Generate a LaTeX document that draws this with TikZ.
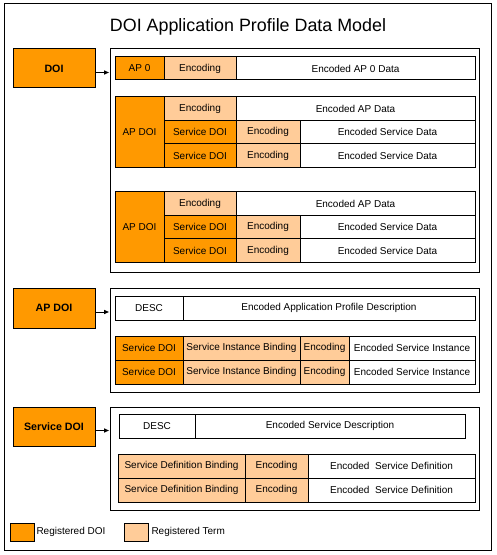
\documentclass[tikz,border=0pt]{standalone}
\usepackage{fontspec}
\setmainfont{Liberation Sans}
\usetikzlibrary{arrows.meta}
\definecolor{regdoi}{RGB}{255,153,0}
\definecolor{regterm}{RGB}{255,204,153}
\tikzset{every picture/.style={line width=0.75pt},
  cell/.style={draw,inner sep=0pt,font=\fontsize{7.5}{9}\selectfont},
  doicell/.style={cell,fill=regdoi},
  termcell/.style={cell,fill=regterm},
  datacell/.style={cell,fill=white},
  keybox/.style={cell,fill=regdoi,font=\fontsize{8}{9}\selectfont\bfseries},
  holder/.style={draw,inner sep=0pt},
  legtext/.style={anchor=west,inner sep=0pt,font=\fontsize{7.5}{9}\selectfont},
  arr/.style={-{Latex[length=4pt,width=3.5pt]}}}
% style, name, x1, y1, x2, y2, text
\newcommand{\cellbox}[7]{\node[#1,minimum width={(#5-#3)*0.75pt},minimum height={(#6-#4)*0.75pt}] (#2) at ({(#3+#5)/2},{(#4+#6)/2}) {#7};}

\begin{document}
\begin{tikzpicture}[x=0.75pt,y=0.75pt,yscale=-1]
\useasboundingbox (0,0) rectangle (496,555);

%Frame and title
\draw (4,4) rectangle (491,550) ;
\node[font=\fontsize{13.4}{16}\selectfont] (title) at (248,27) {DOI Application Profile Data Model};

%DOI part
\cellbox{keybox}{doi}{13}{49}{95}{88}{DOI}
\cellbox{holder}{cntA}{110}{49}{479}{272}{}
\cellbox{doicell}{apzero}{115}{57}{164}{80}{AP 0}
\cellbox{termcell}{apzeroenc}{164}{57}{236}{80}{Encoding}
\cellbox{datacell}{apzerodat}{236}{57}{475}{80}{Encoded AP 0 Data}
\foreach \t/\g in {97/A,192/B}{
  \cellbox{doicell}{ap\g}{115}{\t}{164}{\t+71}{AP DOI}
  \cellbox{termcell}{ap\g enc}{164}{\t}{236}{\t+23.5}{Encoding}
  \cellbox{datacell}{ap\g dat}{236}{\t}{475}{\t+23.5}{Encoded AP Data}
  \foreach \r in {1,2}{
    \pgfmathsetmacro{\y}{\t+23.5*\r}
    \cellbox{doicell}{ap\g sd\r}{164}{\y}{236}{\y+23.5}{Service DOI}
    \cellbox{termcell}{ap\g se\r}{236}{\y}{300}{\y+23.5}{Encoding}
    \cellbox{datacell}{ap\g sx\r}{300}{\y}{475}{\y+23.5}{Encoded Service Data}
  }
}
\draw[arr] ([yshift=3pt]doi.east) -- ([yshift=3pt]doi.east -| cntA.west);

%AP DOI part
\cellbox{keybox}{apdoi}{13}{288}{95}{328}{AP DOI}
\cellbox{holder}{cntB}{110}{288}{479}{392}{}
\cellbox{datacell}{apdesc}{115}{296}{183}{320}{DESC}
\cellbox{datacell}{apdescdat}{183}{296}{475}{320}{Encoded Application Profile Description}
\foreach \y/\r in {336/1,360/2}{
  \cellbox{doicell}{insd\r}{115}{\y}{183}{\y+24}{Service DOI}
  \cellbox{termcell}{insb\r}{183}{\y}{300}{\y+24}{Service Instance Binding}
  \cellbox{termcell}{inse\r}{300}{\y}{349}{\y+24}{Encoding}
  \cellbox{datacell}{insx\r}{349}{\y}{475}{\y+24}{Encoded Service Instance}
}
\draw[arr] ([yshift=3pt]apdoi.east) -- ([yshift=3pt]apdoi.east -| cntB.west);

%Service DOI part
\cellbox{keybox}{svcdoi}{13}{407}{95}{446}{Service DOI}
\cellbox{holder}{cntC}{110}{407}{479}{510}{}
\cellbox{datacell}{svdesc}{119}{414}{195}{438}{DESC}
\cellbox{datacell}{svdescdat}{195}{414}{465}{438}{Encoded Service Description}
\foreach \y/\r in {454/1,478/2}{
  \cellbox{termcell}{defb\r}{118}{\y}{245}{\y+24}{Service Definition Binding}
  \cellbox{termcell}{defe\r}{245}{\y}{308}{\y+24}{Encoding}
  \cellbox{datacell}{defx\r}{308}{\y}{475}{\y+24}{Encoded\ \ Service Definition}
}
\draw[arr] ([yshift=3pt]svcdoi.east) -- ([yshift=3pt]svcdoi.east -| cntC.west);

%Legend
\cellbox{doicell}{legdoibox}{10}{523}{34}{541}{}
\node[legtext] (legdoi) at (36,532) {Registered DOI};
\cellbox{termcell}{legtermbox}{124}{523}{148}{541}{}
\node[legtext] (legterm) at (151,532) {Registered Term};

\end{tikzpicture}
\end{document}
